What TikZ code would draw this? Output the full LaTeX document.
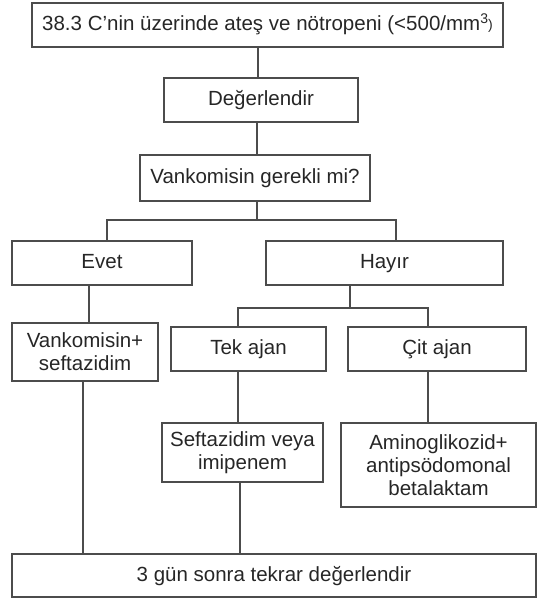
\documentclass[tikz,border=0pt]{standalone}
\usepackage{fontspec}
\setmainfont{Liberation Sans}
\definecolor{ink}{rgb}{0.15,0.15,0.15}
\definecolor{edge}{rgb}{0.3,0.3,0.3}
\begin{document}
\begin{tikzpicture}[x=1pt,y=-1pt,
  box/.style={draw=edge, line width=1.8pt, text=ink, font=\fontsize{20.5}{23}\selectfont,
    align=center, inner sep=0pt, outer sep=0pt},
  one/.style={text height=15pt, text depth=4pt},
  link/.style={draw=edge, line width=1.5pt}]
\useasboundingbox (0,0) rectangle (550,601);
\node[box, one, minimum width=471pt, minimum height=44pt] (top) at (267.5,25)
  {38.3 C\char"0027nin üzerinde ateş ve nötropeni (<500/mm{\fontsize{14}{14}\selectfont\raisebox{0.5em}{3}\raisebox{0.1em}{)}}};
\node[box, one, minimum width=194pt, minimum height=44pt] (deg) at (261,100) {Değerlendir};
\node[box, one, minimum width=230pt, minimum height=46pt] (vq) at (255,178) {Vankomisin gerekli mi?};
\node[box, one, minimum width=180pt, minimum height=44pt] (evet) at (102,263) {Evet};
\node[box, one, minimum width=237pt, minimum height=44pt] (hayir) at (384.5,263) {Hayır};
\node[box, minimum width=146pt, minimum height=58pt] (vank) at (85,352) {Vankomisin+\\seftazidim};
\node[box, one, minimum width=155pt, minimum height=44pt] (tek) at (248.5,349) {Tek ajan};
\node[box, one, minimum width=178pt, minimum height=44pt] (cit) at (437,349) {Çit ajan};
\node[box, minimum width=161pt, minimum height=59pt] (seft) at (242.5,452.5) {Seftazidim veya\\imipenem};
\node[box, minimum width=195pt, minimum height=84pt] (amino) at (438.5,465) {Aminoglikozid+\\antipsödomonal\\betalaktam};
\node[box, one, minimum width=524pt, minimum height=43pt] (son) at (274,575.5) {3 gün sonra tekrar değerlendir};
% connectors
\coordinate (j0) at (258,0);
\draw[link] (top.south -| j0) -- (deg.north -| j0);
\coordinate (j0b) at (257,0);
\draw[link] (deg.south -| j0b) -- (vq.north -| j0b);
\coordinate (j1) at (257,220);
\coordinate (jl) at (107,220);
\coordinate (jr) at (396,220);
\draw[link] (vq.south -| j1) -- (j1);
\draw[link] (evet.north -| jl) -- (jl) -- (jr) -- (hayir.north -| jr);
\coordinate (k1) at (89,0);
\draw[link] (evet.south -| k1) -- (vank.north -| k1);
\coordinate (j2) at (350,308);
\coordinate (jt) at (238,308);
\coordinate (jc) at (428,308);
\draw[link] (hayir.south -| j2) -- (j2);
\draw[link] (tek.north -| jt) -- (jt) -- (jc) -- (cit.north -| jc);
\draw[link] (tek.south -| jt) -- (seft.north -| jt);
\draw[link] (cit.south -| jc) -- (amino.north -| jc);
\coordinate (kv) at (83,0);
\coordinate (ks) at (240,0);
\draw[link] (vank.south -| kv) -- (son.north -| kv);
\draw[link] (seft.south -| ks) -- (son.north -| ks);
\end{tikzpicture}
\end{document}
